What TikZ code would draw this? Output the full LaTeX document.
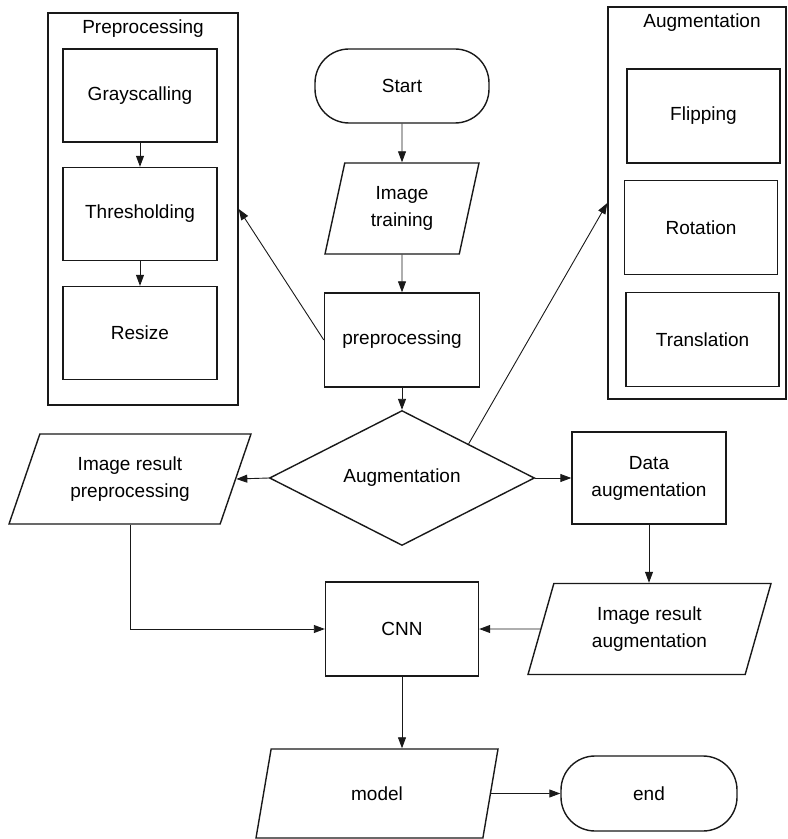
\documentclass[tikz,border=0pt]{standalone}
\usepackage{fontspec}
\setmainfont{Liberation Sans}
\usepackage{tikz}
\usetikzlibrary{arrows.meta, positioning, shapes.geometric}
\definecolor{lineBlack}{gray}{0.1}

\begin{document}
\begin{tikzpicture}[x=0.5pt, y=-0.5pt,
        font=\fontsize{9.5}{13.5}\selectfont,
        every node/.style={align=center, text=black},
        box/.style={draw=lineBlack, line width=0.7pt, rectangle, minimum width=77pt, minimum height=47pt},
        term/.style={box, rounded corners=17pt, minimum width=87pt, minimum height=37pt},
        io/.style={draw=lineBlack, line width=0.7pt, trapezium, trapezium stretches body,
            trapezium left angle=#1, trapezium right angle=180-#1, minimum height=45.5pt},
        group/.style={draw=lineBlack, line width=0.7pt, minimum width=89pt, minimum height=196pt},
        link/.style={->, >={Triangle[length=5.5pt, width=4pt]}, lineBlack, line width=0.45pt}]
    \useasboundingbox (0,0) rectangle (787,839);

    % side groups
    \node[group, minimum width=95pt] (pbox) at (143,209) {};
    \node at (143,29) {Preprocessing};
    \foreach \name/\y/\txt in {gray/95.5/Grayscalling, thr/214/Thresholding, res/333/Resize} {
        \node[box, minimum height=46.5pt] (\name) at (140,\y) {\txt};
    }
    \draw[link] (gray) -- (thr);
    \draw[link] (thr) -- (res);

    \node[group] (abox) at (697,203) {};
    \node at (702,23) {Augmentation};
    \foreach \name/\x/\y/\txt in {flip/703.5/116/Flipping, rot/701/227.5/Rotation, trans/702.5/339.5/Translation} {
        \node[box, minimum width=76.5pt] (\name) at (\x,\y) {\txt};
    }

    % main flow
    \node[term] (start) at (402,86) {Start};
    \node[io=71, minimum width=77pt] (train) at (402,208.5) {Image\\training};
    \node[box, minimum width=77.5pt] (prep) at (402,340) {preprocessing};
    \node[draw=lineBlack, line width=0.7pt, diamond, minimum width=132.5pt, minimum height=60.5pt, inner sep=0pt] (aug) at (402,478) {Augmentation};
    \node[io=62, minimum width=121pt, minimum height=45pt] (irp) at (130,479) {Image result\\preprocessing};
    \node[box, minimum height=46pt] (daug) at (649,478) {Data\\augmentation};
    \node[io=66, minimum width=121.5pt] (ira) at (649.5,629) {Image result\\augmentation};
    \node[box, minimum width=76.5pt] (cnn) at (402,629) {CNN};
    \node[io=61, minimum width=121pt, minimum height=44.5pt] (model) at (377,793.5) {model};
    \node[term, minimum width=88pt, minimum height=37.5pt] (end) at (649,793.5) {end};

    \draw[link] (start) -- (train);
    \draw[link] (train) -- (prep);
    \draw[link] (prep) -- (aug);
    \draw[link] (prep.west) -- (pbox.east);
    \draw[link] (aug.north east) -- (abox.west);
    \draw[link] (aug.west) -- (irp.east);
    \draw[link] (aug.east) -- (daug.west);
    \draw[link] (daug.south) -- (daug.south |- ira.north);
    \draw[link] (irp.south) |- (cnn.west);
    \draw[link] (ira.west) -- (cnn.east);
    \draw[link] (cnn.south) -- (cnn.south |- model.north);
    \draw[link] (model.east) -- (end.west);
\end{tikzpicture}
\end{document}
